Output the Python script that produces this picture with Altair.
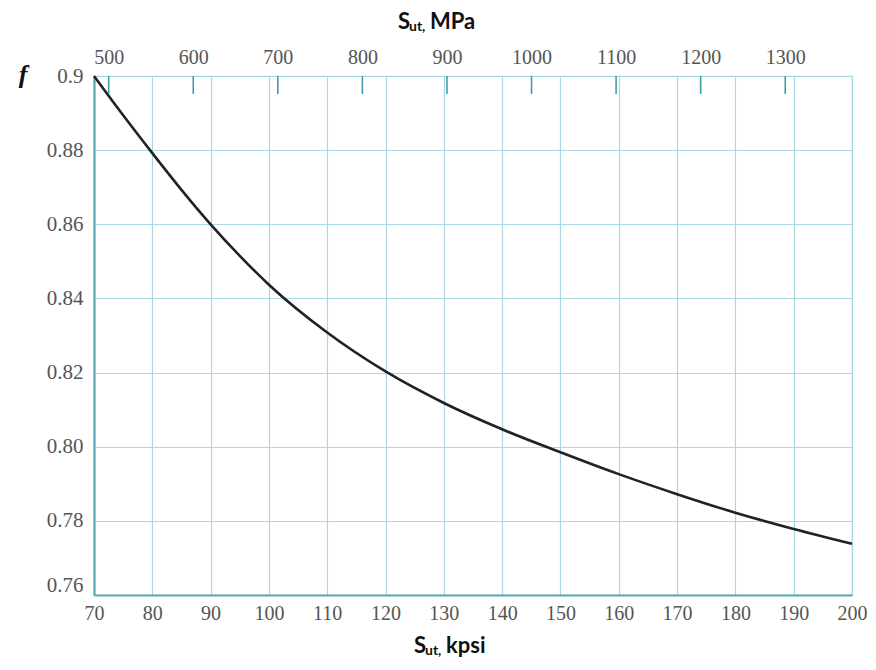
import altair as alt
import pandas as pd

# Values
kpsi = [70, 75, 80, 85, 90, 95, 100, 110, 120, 130, 140, 150, 160, 170, 180, 190, 200]
f_vals = [0.900, 0.8894, 0.8792, 0.8693, 0.8600, 0.8515, 0.8437, 0.8308, 0.8203, 0.8118,
          0.8047, 0.7985, 0.7926, 0.7872, 0.7822, 0.7778, 0.7738]
kpsi_ticks = [70, 80, 90, 100, 110, 120, 130, 140, 150, 160, 170, 180, 190, 200]
f_ticks = [0.76, 0.78, 0.80, 0.82, 0.84, 0.86, 0.88, 0.90]
mpa_ticks = [500, 600, 700, 800, 900, 1000, 1100, 1200, 1300]
MPA_PER_KPSI = 6.894757

W, H = 758, 519
LABEL_FONT = "Liberation Serif"
LABEL_SIZE = 20
LABEL_COLOR = "#555555"
GRID = "#a9d9e2"
AXIS_LINE = "#5aa7b7"

curve_df = pd.DataFrame({"kpsi": kpsi, "f": f_vals})
mpa_df = pd.DataFrame({"mpa": mpa_ticks})
one = pd.DataFrame({"a": [0]})

x_k = alt.X(
    "kpsi:Q",
    scale=alt.Scale(domain=[70, 200], nice=False, zero=False),
    axis=alt.Axis(orient="bottom", values=kpsi_ticks, title=None, ticks=False, tickSize=0,
                  labelFlush=False, labelOverlap=False,
                  labelFont=LABEL_FONT, labelFontSize=LABEL_SIZE, labelColor=LABEL_COLOR,
                  labelPadding=8, domainColor=AXIS_LINE, domainWidth=2,
                  grid=True, gridColor=GRID, gridWidth=1.2, gridOpacity=1),
)
y_f = alt.Y(
    "f:Q",
    scale=alt.Scale(domain=[0.76, 0.90], nice=False, zero=False),
    axis=alt.Axis(values=f_ticks, title=None, ticks=False, tickSize=0,
                  labelFlush=False, labelOverlap=False,
                  labelFont=LABEL_FONT, labelFontSize=21, labelColor=LABEL_COLOR,
                  labelPadding=11,
                  labelExpr="datum.value > 0.895 ? '0.9' : format(datum.value, '.2f')",
                  labelBaseline={"condition": {"test": "datum.value < 0.765", "value": "bottom"},
                                 "value": "middle"},
                  domainColor=AXIS_LINE, domainWidth=2.2,
                  grid=True, gridColor=GRID, gridWidth=1.2, gridOpacity=1),
)

curve = alt.Chart(curve_df).mark_line(
    color="#222222", strokeWidth=2.6, interpolate="monotone"
).encode(x=x_k, y=y_f)

top_ticks = alt.Chart(mpa_df).mark_rule(color="#3f9db2", strokeWidth=1.6).encode(
    x=alt.X(
        "mpa:Q",
        scale=alt.Scale(domain=[70 * MPA_PER_KPSI, 200 * MPA_PER_KPSI], nice=False, zero=False),
        axis=alt.Axis(orient="top", values=mpa_ticks, format="d", title=None, ticks=False,
                      tickSize=0, domain=False, grid=False, labelFlush=False,
                      labelOverlap=False, labelFont=LABEL_FONT,
                      labelFontSize=LABEL_SIZE, labelColor=LABEL_COLOR, labelPadding=9),
    ),
    y=alt.value(0),
    y2=alt.value(18),
)


def txt(s, x, y, size, style="normal", weight="bold", font="Lato", align="left",
        baseline="alphabetic"):
    return alt.Chart(one).mark_text(
        text=s, font=font, fontSize=size, fontWeight=weight, fontStyle=style,
        color="#111111", align=align, baseline=baseline
    ).encode(x=alt.value(x), y=alt.value(y))


titles = [
    txt("S", 304, -47, 22),
    txt("ut,", 315, -45, 14),
    txt("MPa", 336, -47, 22),
    txt("S", 320, 577, 22),
    txt("ut,", 331, 579, 14),
    txt("kpsi", 352, 577, 22),
    txt("f", -71, -1, 26, style="italic", font="Liberation Serif", align="center",
        baseline="middle"),
]

chart = alt.layer(curve, top_ticks, *titles).resolve_scale(x="independent").resolve_axis(
    x="independent"
).properties(
    width=W, height=H,
    autosize=alt.AutoSizeParams(type="none"),
    padding={"left": 86, "top": 68, "right": 15, "bottom": 66},
    background="white",
).configure_view(stroke=GRID, strokeWidth=1.2)

chart.save("out.html", embed_options={"renderer": "svg", "actions": False})
